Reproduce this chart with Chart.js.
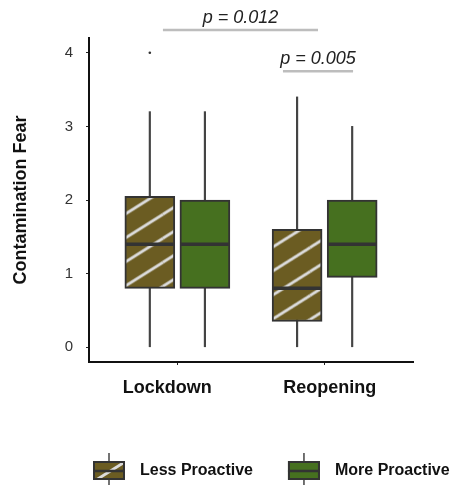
<!DOCTYPE html>
<html>
<head>
<meta charset="utf-8">
<script src="https://cdn.jsdelivr.net/npm/chart.js@4.4.0/dist/chart.umd.min.js"></script>
<style>
  html, body { margin: 0; padding: 0; background: #fff; }
  #wrap { width: 451px; height: 486px; }
</style>
</head>
<body>
<div id="wrap"><canvas id="chart"></canvas></div>
<script>
// categories on the x axis and the two groups
const categories = ['Lockdown', 'Reopening'];
const groups = ['Less Proactive', 'More Proactive'];

// box summaries for "Less Proactive" (one value per category)
const lessMin = [0, 0];
const lessQ1 = [0.8, 0.35];
const lessMedian = [1.4, 0.8];
const lessQ3 = [2.05, 1.6];
const lessMax = [3.2, 3.4];
const lessOutliers = [[4], []];

// box summaries for "More Proactive"
const moreMin = [0, 0];
const moreQ1 = [0.8, 0.95];
const moreMedian = [1.4, 1.4];
const moreQ3 = [2, 2];
const moreMax = [3.2, 3];
const moreOutliers = [[], []];

const yTicks = [0, 1, 2, 3, 4];

// significance labels
const pLabels = ['p = 0.012', 'p = 0.005'];

// ---- styling / layout ----
const OLIVE = '#6b5c22';
const GREEN = '#46701f';
const EDGE = '#333333';
const BOX_W = 50;
const dodge = [-0.187, 0.187];
// the original labels sit a little off their ticks
const labelPad = [(s) => s + '    ', (s) => '  ' + s];
const brackets = [
  { from: -0.098, to: 0.955, y: 4.31, label: pLabels[0] },
  { from: 0.717, to: 1.193, y: 3.75, label: pLabels[1] }
];

Chart.defaults.font.family = "'Liberation Sans', Arial, sans-serif";

// hatch tile: light diagonal stripes over olive
function hatchTile() {
  const w = 38, h = 24;
  const c = document.createElement('canvas');
  c.width = w; c.height = h;
  const g = c.getContext('2d');
  g.fillStyle = OLIVE;
  g.fillRect(0, 0, w, h);
  g.strokeStyle = '#dcdcdc';
  g.lineWidth = 2.8;
  [[0, 0], [-w, 0], [w, 0], [0, -h], [0, h]].forEach(([dx, dy]) => {
    g.beginPath();
    g.moveTo(dx, h + dy);
    g.lineTo(dx + w, dy);
    g.stroke();
  });
  return c;
}
const tile = hatchTile();

function hatchAt(ctx, left, bottom) {
  const p = ctx.createPattern(tile, 'repeat');
  p.setTransform(new DOMMatrix([1, 0, 0, 1, left, bottom - 2]));
  return p;
}

const sets = [
  { min: lessMin, q1: lessQ1, med: lessMedian, q3: lessQ3, max: lessMax, out: lessOutliers },
  { min: moreMin, q1: moreQ1, med: moreMedian, q3: moreQ3, max: moreMax, out: moreOutliers }
];

const datasets = [];
// whiskers (drawn first, behind the boxes)
sets.forEach((s, g) => {
  datasets.push({
    type: 'bar',
    label: groups[g] + ' whisker',
    data: categories.map((c, i) => ({ x: i + dodge[g], y: [s.min[i], s.max[i]] })),
    backgroundColor: '#444',
    barThickness: 1.5,
    grouped: false,
    order: 3
  });
});
// boxes Q1..Q3
sets.forEach((s, g) => {
  datasets.push({
    type: 'bar',
    label: groups[g],
    data: categories.map((c, i) => ({ x: i + dodge[g], y: [s.q1[i], s.q3[i]] })),
    backgroundColor: g === 0 ? (c) => {
      if (c.type !== 'data' || !c.chart.scales.x) return OLIVE;
      const left = c.chart.scales.x.getPixelForValue(c.raw.x) - BOX_W / 2;
      const bottom = c.chart.scales.y.getPixelForValue(c.raw.y[0]);
      return hatchAt(c.chart.ctx, left, bottom);
    } : GREEN,
    borderColor: EDGE,
    borderWidth: 2,
    borderSkipped: false,
    barThickness: BOX_W,
    grouped: false,
    order: 2,
    medians: s.med
  });
});
// outliers
datasets.push({
  type: 'scatter',
  label: 'outliers',
  data: sets.flatMap((s, g) => s.out.flatMap((vals, i) => vals.map(v => ({ x: i + dodge[g], y: v })))),
  pointRadius: 1.3,
  pointBackgroundColor: '#333',
  pointBorderWidth: 0,
  order: 1
});

// medians, significance brackets and the legend
const boxExtras = {
  id: 'boxExtras',
  afterDatasetsDraw(chart) {
    const ctx = chart.ctx;
    const ys = chart.scales.y;
    chart.data.datasets.forEach((ds, di) => {
      if (!ds.medians) return;
      chart.getDatasetMeta(di).data.forEach((el, i) => {
        const y = ys.getPixelForValue(ds.medians[i]);
        ctx.save();
        ctx.strokeStyle = EDGE;
        ctx.lineWidth = 3.5;
        ctx.beginPath();
        ctx.moveTo(el.x - el.width / 2 + 1, y);
        ctx.lineTo(el.x + el.width / 2 - 1, y);
        ctx.stroke();
        ctx.restore();
      });
    });
  },
  afterDraw(chart) {
    const ctx = chart.ctx;
    const xs = chart.scales.x, ys = chart.scales.y;
    ctx.save();
    // p-value brackets
    brackets.forEach(b => {
      const x1 = xs.getPixelForValue(b.from);
      const x2 = xs.getPixelForValue(b.to);
      const y = ys.getPixelForValue(b.y);
      ctx.strokeStyle = '#bdbdbd';
      ctx.lineWidth = 2.5;
      ctx.beginPath();
      ctx.moveTo(x1, y);
      ctx.lineTo(x2, y);
      ctx.stroke();
      ctx.fillStyle = '#222';
      ctx.font = "italic 18px 'Liberation Sans', Arial, sans-serif";
      ctx.textAlign = 'center';
      ctx.textBaseline = 'alphabetic';
      ctx.fillText(b.label, (x1 + x2) / 2, y - 7);
    });

    // legend
    ctx.font = "bold 16px 'Liberation Sans', Arial, sans-serif";
    ctx.textAlign = 'left';
    ctx.textBaseline = 'middle';
    let x = 93;
    const yMid = 471;
    groups.forEach((name, g) => {
      const w = 32, top = 461, bot = 480;
      ctx.strokeStyle = '#444';
      ctx.lineWidth = 1.5;
      ctx.beginPath();
      ctx.moveTo(x + w / 2, 453);
      ctx.lineTo(x + w / 2, 485);
      ctx.stroke();
      ctx.fillStyle = g === 0 ? hatchAt(ctx, x, bot + 4) : GREEN;
      ctx.fillRect(x, top, w, bot - top);
      ctx.strokeStyle = EDGE;
      ctx.lineWidth = 2;
      ctx.strokeRect(x + 1, top + 1, w - 2, bot - top - 2);
      ctx.lineWidth = 2.5;
      ctx.beginPath();
      ctx.moveTo(x, yMid);
      ctx.lineTo(x + w, yMid);
      ctx.stroke();
      ctx.fillStyle = '#111';
      ctx.fillText(name, x + w + 15, yMid);
      x += w + 15 + ctx.measureText(name).width + 35;
    });
    ctx.restore();
  }
};

new Chart(document.getElementById('chart'), {
  type: 'bar',
  data: { datasets },
  options: {
    responsive: true,
    maintainAspectRatio: false,
    animation: false,
    layout: { padding: { top: 38, right: 38, left: 0, bottom: 0 } },
    plugins: {
      legend: { display: false },
      tooltip: { enabled: false }
    },
    scales: {
      x: {
        type: 'linear',
        offset: false,
        min: -0.6,
        max: 1.6,
        afterBuildTicks: (s) => { s.ticks = categories.map((c, i) => ({ value: i })); },
        afterFit: (s) => { s.height = 124; },
        ticks: {
          callback: (v) => labelPad[v](categories[v]),
          font: { size: 18, weight: 'bold' },
          color: '#111',
          padding: 12,
          autoSkip: false,
          maxRotation: 0
        },
        grid: { offset: false, drawOnChartArea: false, drawTicks: true, tickLength: 3, color: '#222' },
        border: { display: true, color: '#111', width: 2 }
      },
      y: {
        min: -0.2,
        max: 4.2,
        afterBuildTicks: (s) => { s.ticks = yTicks.map(v => ({ value: v })); },
        afterFit: (s) => { s.width = 89; },
        ticks: { font: { size: 15 }, color: '#333', padding: 13 },
        grid: { drawOnChartArea: false, drawTicks: true, tickLength: 3, color: '#222' },
        border: { display: true, color: '#111', width: 2 },
        title: {
          display: true,
          text: 'Contamination Fear',
          font: { size: 18, weight: 'bold' },
          color: '#111',
          padding: { top: 10, bottom: 0 }
        }
      }
    }
  },
  plugins: [boxExtras]
});
</script>
</body>
</html>
